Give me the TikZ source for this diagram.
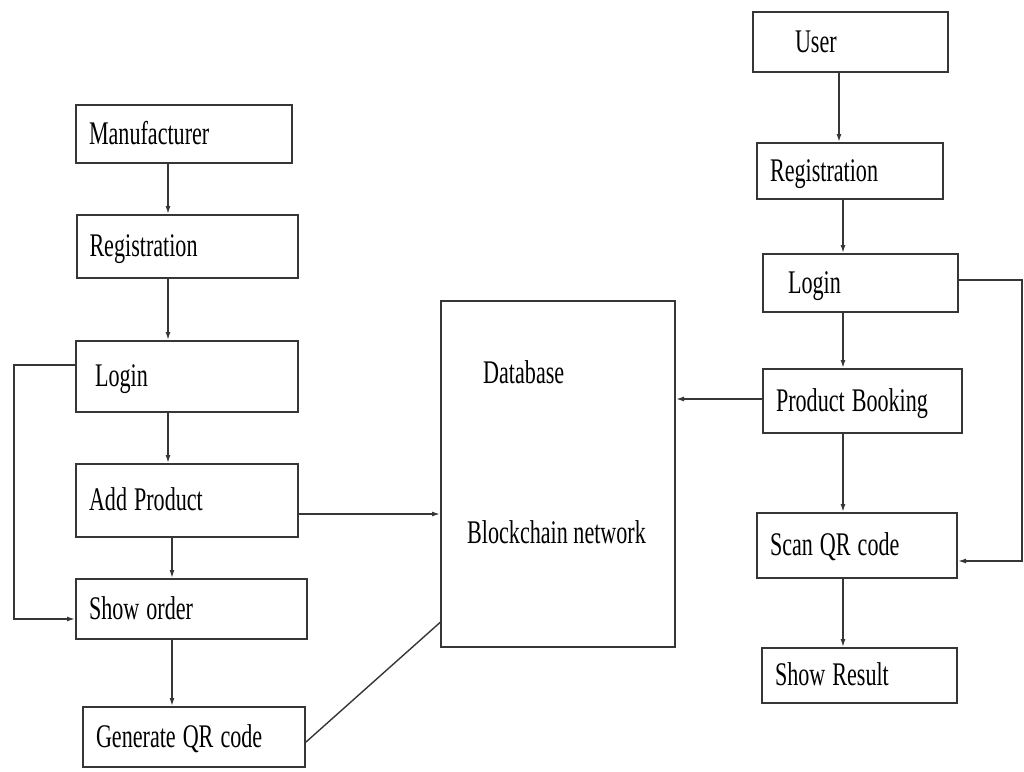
\documentclass[tikz,border=0pt]{standalone}
\usepackage{fontspec}
\setmainfont{Liberation Serif}[FakeStretch=0.67]
\usetikzlibrary{arrows.meta}
\definecolor{ink}{HTML}{363636}

\begin{document}
\begin{tikzpicture}[x=1pt,y=-1pt,
   box/.style={draw=ink, line width=2pt, rectangle, align=left, inner xsep=13pt,
      text height=20pt, text depth=0pt, font=\fontsize{33}{36}\selectfont,
      execute at begin node={\spaceskip=7pt\relax}},
   txt/.style={anchor=base west, inner sep=0pt, font=\fontsize{33}{36}\selectfont},
   flow/.style={draw=ink, line width=1.4pt, -{Latex[length=8pt,width=5pt]}},
   link/.style={draw=ink, line width=1.4pt}]
   \useasboundingbox (0,0) rectangle (1024,771);

   % manufacturer side
   \node[box, text width=190pt, minimum height=58pt] (man) at (184,134) {Manufacturer};
   \node[box, text width=195pt, minimum height=63pt] (reg1) at (187,246.5) {Registration};
   \node[box, text width=184pt, inner xsep=19pt, minimum height=71pt] (log1) at (187,376.5) {Login};
   \node[box, text width=196pt, minimum height=73pt] (add) at (187,500.5) {Add Product};
   \node[box, text width=205pt, minimum height=60pt] (ord) at (191.5,609) {Show order};
   \node[box, text width=196pt, minimum height=60pt] (gen) at (194,737) {Generate QR code};

   % blockchain
   \node[draw=ink, line width=2pt, minimum width=234pt, minimum height=346pt] (db) at (558,473.5) {};
   \node[txt] (dbname) at (483,383) {Database};
   \node[txt] (chain) at (467,543) {Blockchain network};

   % user side
   \node[box, text width=111pt, inner xsep=42pt, minimum height=60pt] (user) at (850.5,42) {User};
   \node[box, text width=160pt, minimum height=56pt] (reg2) at (850,171) {Registration};
   \node[box, text width=145pt, inner xsep=25pt, minimum height=58pt] (log2) at (860.5,283) {Login};
   \node[box, text width=173pt, minimum height=64pt] (book) at (862.5,401) {Product Booking};
   \node[box, text width=174pt, minimum height=65pt] (scan) at (857,545.5) {Scan QR code};
   \node[box, text width=169pt, minimum height=55pt] (res) at (859.5,675.5) {Show Result};

   % columns and bends
   \coordinate (lc1) at (168,0);
   \coordinate (lc2) at (172,0);
   \coordinate (rc1) at (839,0);
   \coordinate (rc2) at (843,0);
   \coordinate (ay) at (0,514);
   \coordinate (by) at (0,399);
   \coordinate (la) at (14,365);
   \coordinate (lb) at (14,619);
   \coordinate (ra) at (1022,280);
   \coordinate (rb) at (1022,561);

   \draw[flow] (man.south -| lc1) -- (reg1.north -| lc1);
   \draw[flow] (reg1.south -| lc1) -- (log1.north -| lc1);
   \draw[flow] (log1.south -| lc1) -- (add.north -| lc1);
   \draw[flow] (add.south -| lc2) -- (ord.north -| lc2);
   \draw[flow] (ord.south -| lc2) -- (gen.north -| lc2);
   \draw[flow] (log1.west |- la) -- (la) -- (lb) -- (ord.west |- lb);
   \draw[flow] (add.east |- ay) -- (db.west |- ay);
   \draw[link] ([yshift=-5pt]gen.east) -- ([yshift=25pt]db.south west);

   \draw[flow] (user.south -| rc1) -- (reg2.north -| rc1);
   \draw[flow] (reg2.south -| rc2) -- (log2.north -| rc2);
   \draw[flow] (log2.south -| rc2) -- (book.north -| rc2);
   \draw[flow] (book.south -| rc2) -- (scan.north -| rc2);
   \draw[flow] (scan.south -| rc2) -- (res.north -| rc2);
   \draw[flow] (book.west |- by) -- (db.east |- by);
   \draw[flow] (log2.east |- ra) -- (ra) -- (rb) -- (scan.east |- rb);
\end{tikzpicture}
\end{document}
